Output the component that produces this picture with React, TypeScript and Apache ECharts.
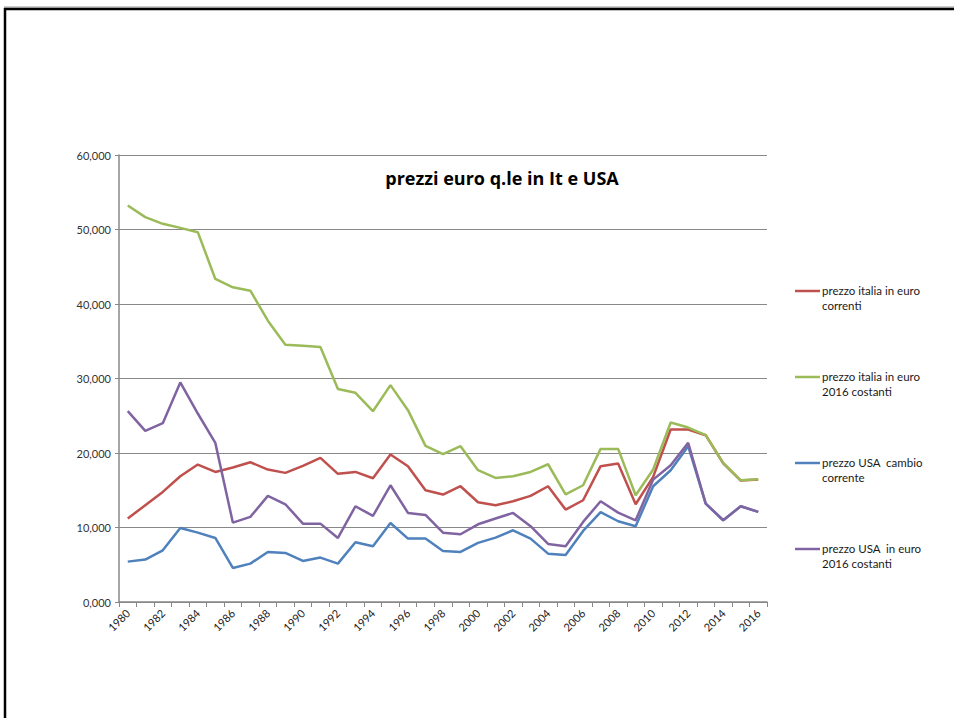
import React, { useEffect, useRef } from "react";
import * as echarts from "echarts";

const years: string[] = [];
for (let y = 1980; y <= 2016; y++) years.push(String(y));

const seriesNames = [
  "prezzo italia in euro\ncorrenti",
  "prezzo italia in euro\n2016 costanti",
  "prezzo USA  cambio\ncorrente",
  "prezzo USA  in euro\n2016 costanti",
];
const colors = ["#C0504D", "#9BBB59", "#4F81BD", "#8064A2"];

const italiaCorrenti = [
  11.2, 12.99, 14.78, 16.88, 18.45, 17.46, 18.05, 18.76, 17.78, 17.33,
  18.27, 19.35, 17.2, 17.46, 16.61, 19.79, 18.23, 15.0, 14.42, 15.54,
  13.39, 12.99, 13.52, 14.24, 15.54, 12.4, 13.66, 18.23, 18.58, 13.12,
  16.79, 23.15, 23.15, 22.39, 18.6, 16.3, 16.45,
];
const italiaCostanti = [
  53.23, 51.66, 50.76, 50.22, 49.64, 43.36, 42.24, 41.79, 37.76, 34.53,
  34.4, 34.22, 28.6, 28.08, 25.61, 29.11, 25.75, 20.96, 19.84, 20.91,
  17.69, 16.66, 16.88, 17.46, 18.49, 14.46, 15.67, 20.55, 20.55, 14.33,
  17.78, 24.09, 23.42, 22.39, 18.67, 16.34, 16.48,
];
const usaCorrente = [
  5.42, 5.69, 6.94, 9.94, 9.31, 8.6, 4.57, 5.15, 6.72, 6.58,
  5.51, 5.96, 5.15, 8.02, 7.48, 10.61, 8.51, 8.51, 6.85, 6.72,
  7.93, 8.64, 9.63, 8.51, 6.49, 6.31, 9.54, 12.05, 10.84, 10.17,
  15.54, 17.69, 20.91, 13.21, 10.97, 12.85, 12.09,
];
const usaCostanti = [
  25.61, 22.97, 24.0, 29.47, 25.3, 21.36, 10.66, 11.42, 14.24, 13.12,
  10.52, 10.52, 8.6, 12.85, 11.55, 15.67, 11.96, 11.69, 9.31, 9.09,
  10.43, 11.2, 11.96, 10.17, 7.79, 7.48, 10.75, 13.52, 12.0, 10.97,
  16.43, 18.36, 21.36, 13.21, 10.97, 12.85, 12.09,
];
const seriesData = [italiaCorrenti, italiaCostanti, usaCorrente, usaCostanti];
const yTicks = [0, 10, 20, 30, 40, 50, 60];
const title = "prezzi euro q.le in It e USA";

export default function App() {
  const ref = useRef<HTMLDivElement>(null);
  useEffect(() => {
    if (!ref.current) return;
    const chart = echarts.init(ref.current, null, { renderer: "svg" });
    const font = "Lato, 'Liberation Sans', sans-serif";
    const legendTops = [291, 377, 463, 549];
    const legendGraphics: any[] = [];
    seriesNames.forEach((n, i) => {
      legendGraphics.push({
        type: "line",
        shape: { x1: 795, y1: legendTops[i], x2: 820, y2: legendTops[i] },
        style: { stroke: colors[i], lineWidth: 2.5 },
      });
      legendGraphics.push({
        type: "text",
        x: 822,
        y: legendTops[i] - 8,
        style: {
          text: n,
          font: `11.5px ${font}`,
          fill: "#1a1a1a",
          lineHeight: 15,
          textVerticalAlign: "top",
        },
      });
    });
    chart.setOption({
      animation: false,
      backgroundColor: "#ffffff",
      title: {
        text: title,
        left: 497,
        top: 164,
        textAlign: "center",
        textStyle: {
          fontFamily: "'Open Sans', sans-serif",
          fontWeight: "bold",
          fontSize: 18,
          color: "#000",
        },
      },
      grid: { left: 119, top: 155, right: 187, bottom: 116, containLabel: false },
      xAxis: {
        type: "category",
        data: years,
        boundaryGap: true,
        axisLine: { lineStyle: { color: "#888888", width: 1.5 } },
        axisTick: { show: true, interval: 0, length: 5, lineStyle: { color: "#888888" } },
        axisLabel: {
          interval: 1,
          rotate: 45,
          margin: 9,
          fontFamily: font,
          fontSize: 11,
          color: "#222",
        },
        splitLine: { show: false },
      },
      yAxis: {
        type: "value",
        min: 0,
        max: 60,
        interval: 10,
        axisLine: { show: true, lineStyle: { color: "#888888", width: 1.5 } },
        axisTick: { show: true, length: 4, lineStyle: { color: "#888888" } },
        axisLabel: {
          margin: 8,
          fontFamily: font,
          fontSize: 11,
          color: "#333",
          formatter: (v: number) => (yTicks.includes(v) ? v.toFixed(3).replace(".", ",") : ""),
        },
        splitLine: { show: true, lineStyle: { color: "#888888", width: 1 } },
      },
      series: seriesData.map((d, i) => ({
        name: seriesNames[i],
        type: "line",
        data: d,
        symbol: "none",
        lineStyle: { color: colors[i], width: 2.5 },
        itemStyle: { color: colors[i] },
        z: 2 + i,
      })),
      graphic: [
        {
          type: "line",
          shape: { x1: 4, y1: 7, x2: 954, y2: 7 },
          style: { stroke: "#9a9a9a", lineWidth: 1 },
        },
        {
          type: "line",
          shape: { x1: 4, y1: 9, x2: 954, y2: 9 },
          style: { stroke: "#000", lineWidth: 2.5 },
        },
        {
          type: "line",
          shape: { x1: 5, y1: 8, x2: 5, y2: 718 },
          style: { stroke: "#000", lineWidth: 2.5 },
        },
        ...legendGraphics,
      ],
    });
    return () => chart.dispose();
  }, []);
  return (
    <div
      ref={ref}
      style={{ position: "fixed", left: 0, top: 0, width: 954, height: 718, background: "#fff" }}
    />
  );
}
